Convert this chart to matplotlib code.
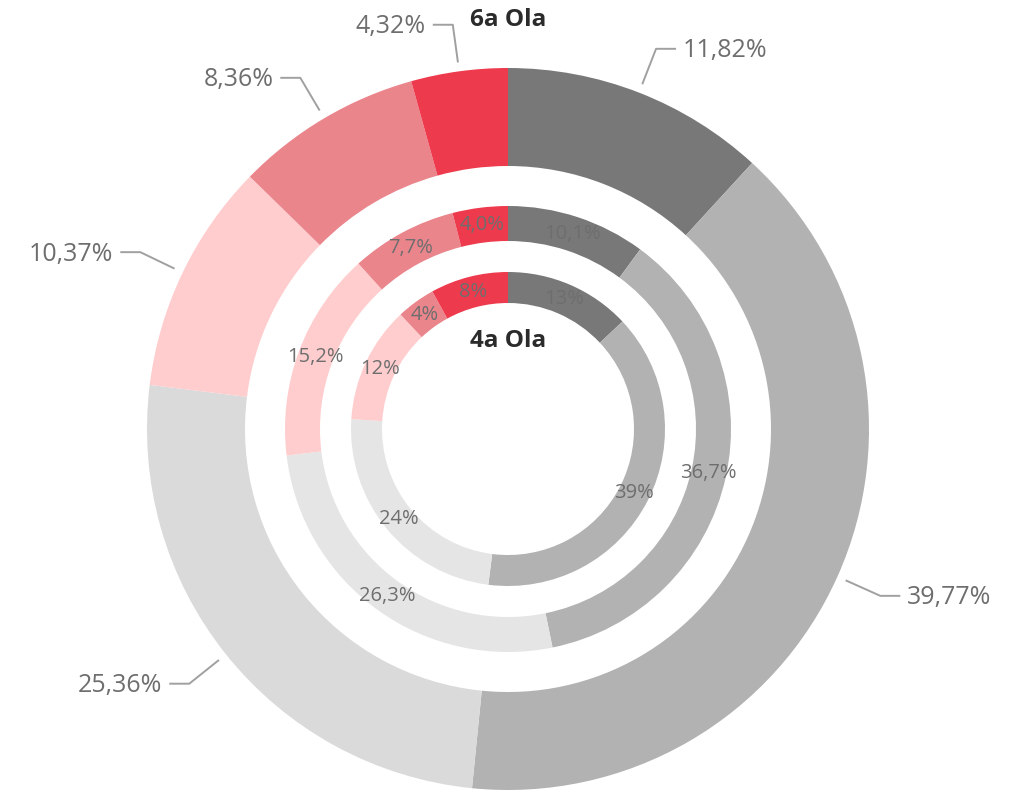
import matplotlib.pyplot as plt
import numpy as np

plt.rcParams['font.family'] = ['Open Sans', 'DejaVu Sans']

# values clockwise from 12 o'clock
outer_pct = [11.82, 39.77, 25.36, 10.37, 8.36, 4.32]   # 6a Ola
middle_pct = [10.1, 36.7, 26.3, 15.2, 7.7, 4.0]
inner_pct = [13, 39, 24, 12, 4, 8]                     # 4a Ola

outer_colors = ['#787878', '#b2b2b2', '#dadada', '#ffcdce', '#ea858c', '#ee3a4d']
ring_colors = ['#787878', '#b2b2b2', '#e5e5e5', '#ffcdce', '#ea858c', '#ee3a4d']

W, H = 1014, 794
cx, cy = 508, H - 429

fig = plt.figure(figsize=(W / 100, H / 100), dpi=100)
ax = fig.add_axes([0, 0, 1, 1])

r_out, w_out = 361, 98
r_mid, w_mid = 223, 35
r_in, w_in = 157, 31

ax.pie(outer_pct, colors=outer_colors, radius=r_out, center=(cx, cy),
       startangle=90, counterclock=False,
       wedgeprops=dict(width=w_out, linewidth=0))

lab_kw = dict(color='#6e6e6e', fontsize=14.5)
ax.pie(middle_pct, colors=ring_colors, radius=r_mid, center=(cx, cy),
       startangle=90, counterclock=False,
       wedgeprops=dict(width=w_mid, linewidth=0),
       autopct=lambda p: f"{p:.1f}%".replace('.', ','),
       pctdistance=(r_mid - w_mid / 2) / r_mid, textprops=lab_kw)
ax.pie(inner_pct, colors=ring_colors, radius=r_in, center=(cx, cy),
       startangle=90, counterclock=False,
       wedgeprops=dict(width=w_in, linewidth=0),
       autopct=lambda p: f"{p:.0f}%",
       pctdistance=(r_in - w_in / 2) / r_in, textprops=lab_kw)

# outer labels with leader lines
total = sum(outer_pct)
cum = np.cumsum([0] + outer_pct[:-1])
for start, v in zip(cum, outer_pct):
    ang = np.deg2rad((start + v / 2) / total * 360)
    sx, sy = np.sin(ang), np.cos(ang)
    x0, y0 = cx + 370 * sx, cy + 370 * sy
    x1, y1 = cx + 408 * sx, cy + 408 * sy
    d = 1 if sx > 0 else -1
    x2 = x1 + 20 * d
    ax.plot([x0, x1, x2], [y0, y1, y1], color='#a0a0a0', lw=1.4,
            solid_capstyle='butt')
    ax.text(x2 + 7 * d, y1 - 2, f"{v:.2f}%".replace('.', ','),
            ha='left' if d > 0 else 'right', va='center',
            fontsize=18, color='#6e6e6e')

ax.text(cx, H - 20, '6a Ola', ha='center', va='center',
        fontsize=17.5, fontweight='bold', color='#2b2b2b')
ax.text(cx, H - 341, '4a Ola', ha='center', va='center',
        fontsize=17.5, fontweight='bold', color='#2b2b2b')

ax.set_xlim(0, W)
ax.set_ylim(0, H)
ax.set_aspect('equal')
ax.axis('off')

fig.savefig('out.png', dpi=100, facecolor='white')
